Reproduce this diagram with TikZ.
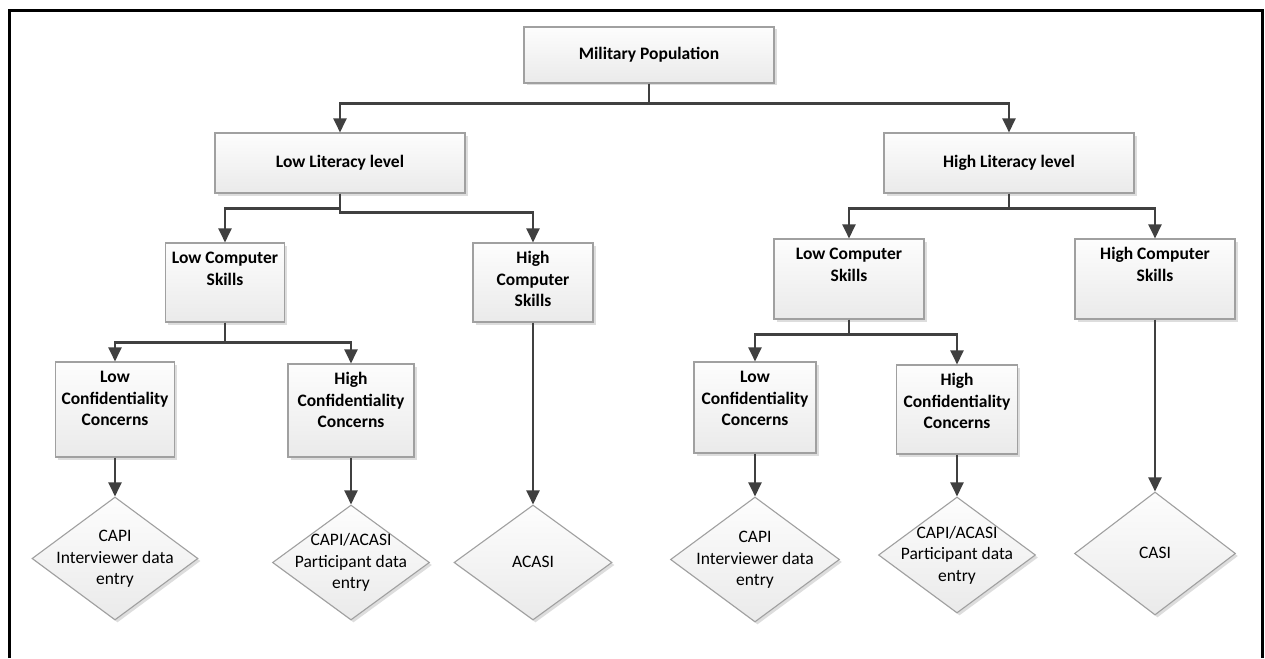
\documentclass[tikz,border=0pt]{standalone}
\usepackage{fontspec}
\setmainfont{Carlito}
\usetikzlibrary{shapes.geometric,arrows.meta,shadows}
\definecolor{boxtop}{HTML}{FDFDFD}
\definecolor{boxbot}{HTML}{EAEAEA}
\definecolor{boxline}{HTML}{A0A0A0}
\definecolor{connc}{HTML}{404040}
\definecolor{shadowc}{HTML}{DDDDDD}
\newcommand{\toptext}[3]{\parbox[c][#2][t]{#1}{\centering\rule{0pt}{20.5pt}#3}}
\newcommand{\dtext}[1]{\smash{\makebox[0pt]{\raisebox{-5pt}{\begin{tabular}{@{}c@{}}#1\end{tabular}}}}}
\begin{document}
\begin{tikzpicture}[x=1pt,y=-1pt,
  font=\fontsize{17.5}{21.5}\selectfont,
  bold/.style={font=\fontsize{17.5}{21.5}\selectfont\bfseries},
  box/.style={draw=boxline, line width=1.1pt, top color=boxtop, bottom color=boxbot,
    inner sep=0pt, drop shadow={shadow xshift=2.5pt, shadow yshift=-2.5pt, fill=shadowc, opacity=1}},
  dia/.style={diamond, draw=boxline, line width=1.1pt, top color=boxtop, bottom color=boxbot,
    inner sep=0pt, drop shadow={shadow xshift=2.5pt, shadow yshift=-2.5pt, fill=shadowc, opacity=1}},
  conn/.style={draw=connc, line width=2.2pt, -{Triangle[length=14pt,width=13pt]}}]
\useasboundingbox (0,0) rectangle (1265,658);
\fill[white] (0,0) rectangle (1265,658);
\draw[line width=3pt] (9.5,658) -- (9.5,11) -- (1262.5,11) -- (1262.5,658);

\node[box,bold,minimum width=250pt,minimum height=56pt] (mil) at (649,55) {Military Population};
\node[box,bold,minimum width=250pt,minimum height=60pt] (lowlit) at (340,163) {Low Literacy level};
\node[box,bold,minimum width=250pt,minimum height=60pt] (highlit) at (1009,163) {High Literacy level};

\node[box,bold] (lcs1) at (225,282.5) {\toptext{119pt}{79pt}{Low Computer\\Skills}};
\node[box,bold] (hcs1) at (533,282.5) {\toptext{120pt}{79pt}{High\\Computer\\Skills}};
\node[box,bold] (lcc1) at (115,409.5) {\toptext{119pt}{95pt}{Low\\Confidentiality\\Concerns}};
\node[box,bold] (hcc1) at (351,410.5) {\toptext{126pt}{93pt}{High\\Confidentiality\\Concerns}};

\node[box,bold] (lcs2) at (849,279) {\toptext{150pt}{80pt}{Low Computer\\Skills}};
\node[box,bold] (hcs2) at (1155,279) {\toptext{160pt}{80pt}{High Computer\\Skills}};
\node[box,bold] (lcc2) at (755,407.5) {\toptext{122pt}{91pt}{Low\\Confidentiality\\Concerns}};
\node[box,bold] (hcc2) at (957,409.5) {\toptext{121pt}{89pt}{High\\Confidentiality\\Concerns}};

\node[dia,minimum width=166pt,minimum height=123pt] (d1) at (115,558.5) {\dtext{CAPI\\Interviewer data\\entry}};
\node[dia,minimum width=157pt,minimum height=115pt] (d2) at (351,562.5) {\dtext{CAPI/ACASI\\Participant data\\entry}};
\node[dia,minimum width=158pt,minimum height=115pt] (d3) at (533,562.5) {\dtext{ACASI}};
\node[dia,minimum width=169pt,minimum height=125pt] (d4) at (755,559.5) {\dtext{CAPI\\Interviewer data\\entry}};
\node[dia,minimum width=157pt,minimum height=116pt] (d5) at (957,555) {\dtext{CAPI/ACASI\\Participant data\\entry}};
\node[dia,minimum width=161pt,minimum height=123pt] (d6) at (1155,553.5) {\dtext{CASI}};

\draw[conn] (mil.south) -- ++(0,20) -| (lowlit.north);
\draw[conn] (mil.south) -- ++(0,20) -| (highlit.north);
\draw[conn] (lowlit.south) -- ++(0,15) -| (lcs1.north);
\draw[conn] (lowlit.south) -- ++(0,19) -| (hcs1.north);
\draw[conn] (highlit.south) -- ++(0,15) -| (lcs2.north);
\draw[conn] (highlit.south) -- ++(0,15) -| (hcs2.north);
\draw[conn] (lcs1.south) -- ++(0,20) -| (lcc1.north);
\draw[conn] (lcs1.south) -- ++(0,20) -| (hcc1.north);
\draw[conn] (lcs2.south) -- ++(0,15) -| (lcc2.north);
\draw[conn] (lcs2.south) -- ++(0,15) -| (hcc2.north);
\draw[conn] (hcs1.south) -- (d3.north);
\draw[conn] (hcs2.south) -- (d6.north);
\draw[conn] (lcc1.south) -- (d1.north);
\draw[conn] (hcc1.south) -- (d2.north);
\draw[conn] (lcc2.south) -- (d4.north);
\draw[conn] (hcc2.south) -- (d5.north);
\end{tikzpicture}
\end{document}
